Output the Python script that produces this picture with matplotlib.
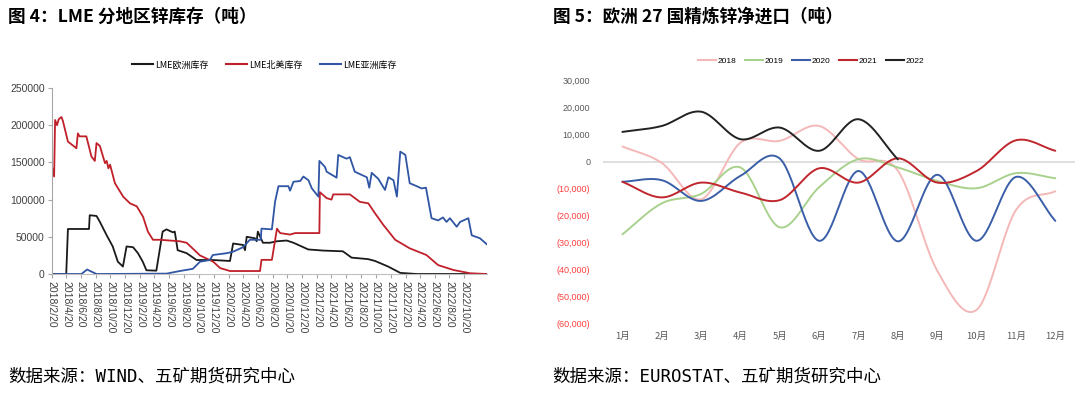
import numpy as np
import pandas as pd
import matplotlib
matplotlib.use('Agg')
import matplotlib.pyplot as plt
from matplotlib.lines import Line2D

plt.rcParams['font.family'] = ['Noto Sans CJK SC', 'DejaVu Sans']
plt.rcParams['axes.unicode_minus'] = False

# ---------------- Left chart data: LME stocks by region (t) ----------------
eu_dates = ['2018-02-20', '2018-04-21', '2018-04-28', '2018-07-24', '2018-07-27', '2018-08-24',
            '2018-09-07', '2018-10-05', '2018-10-30', '2018-11-20', '2018-12-11', '2018-12-26',
            '2019-01-22', '2019-02-11', '2019-03-03', '2019-03-18', '2019-04-28', '2019-05-24',
            '2019-06-09', '2019-07-05', '2019-07-13', '2019-07-25', '2019-08-31', '2019-10-11',
            '2019-12-17', '2020-02-26', '2020-03-10', '2020-04-20', '2020-04-28', '2020-05-05',
            '2020-06-08', '2020-06-15', '2020-06-20', '2020-07-11', '2020-08-09', '2020-09-07',
            '2020-10-17', '2020-11-14', '2021-01-14', '2021-03-16', '2021-06-06', '2021-07-12',
            '2021-09-18', '2021-10-17', '2021-12-10', '2022-01-29', '2022-04-07', '2023-01-21']
eu_vals = [0, 0, 60500, 60500, 79000, 78000,
           70000, 52000, 37000, 16500, 10000, 37000,
           36000, 28000, 16500, 5000, 4500, 57000,
           60000, 56000, 57000, 32000, 28000, 18800,
           18800, 17500, 41000, 39000, 32000, 50000,
           48000, 44000, 57000, 42000, 42000, 44000,
           45000, 42000, 33000, 31500, 30500, 22000,
           20000, 17500, 10000, 1500, 0, 0]

na_dates = ['2018-02-20', '2018-03-02', '2018-03-06', '2018-03-14', '2018-03-21', '2018-04-01',
            '2018-04-07', '2018-04-28', '2018-06-02', '2018-06-08', '2018-06-15', '2018-07-13',
            '2018-08-03', '2018-08-17', '2018-08-24', '2018-09-07', '2018-09-28', '2018-10-05',
            '2018-10-12', '2018-10-19', '2018-11-08', '2018-12-12', '2019-01-09', '2019-02-06',
            '2019-03-04', '2019-03-24', '2019-04-14', '2019-05-12', '2019-08-03', '2019-08-31',
            '2019-10-25', '2019-12-19', '2020-01-16', '2020-02-26', '2020-06-29', '2020-07-05',
            '2020-08-17', '2020-09-07', '2020-09-20', '2020-10-31', '2020-11-21', '2021-03-01',
            '2021-03-03', '2021-03-31', '2021-04-20', '2021-04-27', '2021-07-05', '2021-08-15',
            '2021-09-19', '2021-10-17', '2021-11-20', '2022-01-08', '2022-03-09', '2022-05-17',
            '2022-07-04', '2022-09-05', '2022-11-13', '2023-01-21']
na_vals = [146000, 131000, 207000, 200000, 208000, 211000,
           206000, 178000, 169000, 189000, 185000, 185000,
           158000, 152000, 176000, 172000, 149000, 152000,
           142000, 147000, 122000, 104000, 95000, 91000,
           77000, 57000, 46000, 46000, 44000, 42000,
           25000, 16500, 8000, 4000, 4000, 19000,
           19000, 61000, 55000, 53000, 55000, 55000,
           110000, 102000, 100000, 107000, 107000, 97000,
           95000, 81500, 66000, 46000, 34500, 25500,
           12000, 5400, 1000, 0]

as_dates = ['2018-02-20', '2018-06-23', '2018-07-16', '2018-08-24', '2019-06-09', '2019-08-03',
            '2019-09-26', '2019-10-25', '2019-12-05', '2019-12-17', '2020-02-13', '2020-03-10',
            '2020-04-20', '2020-05-18', '2020-07-02', '2020-07-05', '2020-08-17', '2020-08-30',
            '2020-09-13', '2020-10-24', '2020-10-31', '2020-11-14', '2020-12-12', '2020-12-25',
            '2021-01-15', '2021-01-29', '2021-02-25', '2021-03-01', '2021-03-24', '2021-03-31',
            '2021-05-11', '2021-05-18', '2021-06-21', '2021-07-05', '2021-07-25', '2021-09-13',
            '2021-09-23', '2021-10-03', '2021-10-30', '2021-11-27', '2021-12-11', '2022-01-01',
            '2022-01-15', '2022-01-29', '2022-02-19', '2022-03-09', '2022-04-07', '2022-04-27',
            '2022-05-15', '2022-06-07', '2022-07-04', '2022-07-24', '2022-08-08', '2022-08-22',
            '2022-09-19', '2022-10-03', '2022-11-06', '2022-11-20', '2022-12-24', '2023-01-21']
as_vals = [0, 0, 6000, 0, 500, 4000,
           7000, 16500, 18800, 25500, 28000, 30000,
           36000, 46000, 46000, 61000, 60000, 97000,
           118000, 118000, 112000, 124000, 125000, 131000,
           126000, 115000, 104000, 152000, 144000, 137500,
           129500, 160000, 155000, 157000, 137500, 130000,
           116000, 136000, 128000, 113000, 130000, 126000,
           104000, 164500, 160000, 122000, 118000, 115000,
           116000, 75000, 72000, 76000, 70000, 75000,
           63500, 70000, 75000, 52000, 48000, 40000]

left_yticks = [0, 50000, 100000, 150000, 200000, 250000]
left_tick_dates = pd.date_range('2018-02-20', periods=29, freq=pd.DateOffset(months=2))
left_tick_labels = [f"{d.year}/{d.month}/20" for d in left_tick_dates]

# ---------------- Right chart data: EU27 refined zinc net imports (t) ----------------
months = ['1月', '2月', '3月', '4月', '5月', '6月', '7月', '8月', '9月', '10月', '11月', '12月']
y2018 = [5600, -500, -14000, 7000, 7700, 13200, 900, -3400, -40500, -55000, -18000, -11000]
y2019 = [-27000, -15500, -12000, -2200, -24400, -9500, 900, -2200, -7200, -9900, -4300, -6200]
y2020 = [-7500, -6900, -14600, -5300, 1100, -29400, -3500, -29600, -4900, -29400, -5700, -22000]
y2021 = [-7500, -13300, -7800, -11500, -14300, -2500, -7800, 1200, -7800, -3500, 7900, 4000]
y2022 = [11000, 13200, 18500, 8300, 12600, 4000, 15700, 800]
right_yticks = [-60000, -50000, -40000, -30000, -20000, -10000, 0, 10000, 20000, 30000]

W, H = 1080, 398
fig = plt.figure(figsize=(W / 100, H / 100), dpi=100)

def fx(px):
    return px / W

def fy(py):
    return 1 - py / H

# ---------------- Left axes ----------------
axL = fig.add_axes([fx(51.7), fy(274), fx(487 - 51.7), (274 - 88) / H])
cL = {'eu': '#1a1a1a', 'na': '#C0202A', 'as': '#2F55A4'}
axL.plot(pd.to_datetime(eu_dates), eu_vals, color=cL['eu'], lw=1.3)
axL.plot(pd.to_datetime(na_dates), na_vals, color=cL['na'], lw=1.3)
axL.plot(pd.to_datetime(as_dates), as_vals, color=cL['as'], lw=1.3)
axL.set_xlim(pd.Timestamp('2018-02-20'), pd.Timestamp('2023-01-22'))
axL.set_ylim(0, 250000)
axL.set_yticks(left_yticks)
axL.set_yticklabels([str(v) for v in left_yticks], fontsize=7.5, color='#404040',
                    family=['Liberation Sans', 'DejaVu Sans'])
axL.set_xticks(left_tick_dates)
axL.set_xticklabels(left_tick_labels, rotation=270, fontsize=7.5, color='#404040',
                    ha='center', va='top', family=['Liberation Sans', 'DejaVu Sans'])
for s in ['top', 'right']:
    axL.spines[s].set_visible(False)
axL.spines['left'].set_color('#A6A6A6')
axL.spines['bottom'].set_color('#BFBFBF')
axL.tick_params(axis='both', colors='#A6A6A6', length=3, width=0.8, pad=2)
axL.tick_params(axis='both', labelcolor='#404040')
axL.set_facecolor('none')

handlesL = [Line2D([], [], color=cL['eu'], lw=1.5),
            Line2D([], [], color=cL['na'], lw=1.5),
            Line2D([], [], color=cL['as'], lw=1.5)]
fig.legend(handlesL, ['LME欧洲库存', 'LME北美库存', 'LME亚洲库存'], loc='center',
           bbox_to_anchor=(fx(264), fy(65)), ncol=3, frameon=False, fontsize=6.5,
           handlelength=2.4, handletextpad=0.2, columnspacing=1.9)

# ---------------- Right axes ----------------
def catmull_rom(xs, ys, n=30):
    xs = np.asarray(xs, float)
    ys = np.asarray(ys, float)
    P = np.column_stack([xs, ys])
    P = np.vstack([P[0] * 2 - P[1], P, P[-1] * 2 - P[-2]])
    out = []
    t = np.linspace(0, 1, n)[:, None]
    for i in range(1, len(P) - 2):
        p0, p1, p2, p3 = P[i - 1], P[i], P[i + 1], P[i + 2]
        seg = 0.5 * ((2 * p1) + (-p0 + p2) * t + (2 * p0 - 5 * p1 + 4 * p2 - p3) * t ** 2
                     + (-p0 + 3 * p1 - 3 * p2 + p3) * t ** 3)
        out.append(seg if i == 1 else seg[1:])
    out = np.vstack(out)
    return out[:, 0], out[:, 1]

axR = fig.add_axes([fx(602.7), fy(323.3), fx(1075 - 602.7), (323.3 - 80.7) / H])
axR.axhline(0, color='#D9D9D9', lw=1.2, zorder=1)
seriesR = [('2018', y2018, '#F4B8B8'), ('2019', y2019, '#A9D18E'),
           ('2020', y2020, '#3A5FA8'), ('2021', y2021, '#C0262D'), ('2022', y2022, '#222222')]
x_idx = np.arange(1, 13)
for name, vals, col in seriesR:
    xs, ys = catmull_rom(x_idx[:len(vals)], vals)
    axR.plot(xs, ys, color=col, lw=1.4, zorder=3, solid_capstyle='round')
axR.set_xlim(0.5, 12.5)
axR.set_ylim(-60000, 30000)
for s in axR.spines.values():
    s.set_visible(False)
axR.set_xticks(x_idx)
axR.set_xticklabels(months, fontsize=6.8, color='#595959')
axR.set_yticks(right_yticks)
ylabs = []
for v in right_yticks:
    if v < 0:
        ylabs.append(f"({-v:,})")
    else:
        ylabs.append(f"{v:,}")
axR.set_yticklabels(ylabs, fontsize=6.5, family=['Liberation Sans', 'DejaVu Sans'])
for lab, v in zip(axR.get_yticklabels(), right_yticks):
    lab.set_color('#FF4040' if v < 0 else '#595959')
axR.tick_params(axis='both', length=0)
axR.tick_params(axis='y', pad=9)
axR.tick_params(axis='x', pad=6)
axR.set_facecolor('none')

handlesR = [Line2D([], [], color=c, lw=1.5) for _, _, c in seriesR]
fig.legend(handlesR, [n for n, _, _ in seriesR], loc='center',
           bbox_to_anchor=(fx(811), fy(61)), ncol=5, frameon=False,
           handlelength=2.2, handletextpad=0.2, columnspacing=1.0,
           prop={'family': ['Liberation Sans', 'DejaVu Sans'], 'size': 6})

# ---------------- Titles & footers ----------------
fig.text(fx(8), fy(17), '图 4：LME 分地区锌库存（吨）', fontsize=12.7, fontweight='bold',
         ha='left', va='center', color='#000000')
fig.text(fx(553), fy(17), '图 5：欧洲 27 国精炼锌净进口（吨）', fontsize=12.7, fontweight='bold',
         ha='left', va='center', color='#000000')
foot_family = ['DejaVu Sans Mono', 'Noto Sans CJK SC']
fig.text(fx(8), fy(377), '数据来源：WIND、五矿期货研究中心', fontsize=12.6,
         ha='left', va='center', color='#000000', family=foot_family)
fig.text(fx(552), fy(377), '数据来源：EUROSTAT、五矿期货研究中心', fontsize=12.6,
         ha='left', va='center', color='#000000', family=foot_family)

fig.savefig('out.png', dpi=100)
